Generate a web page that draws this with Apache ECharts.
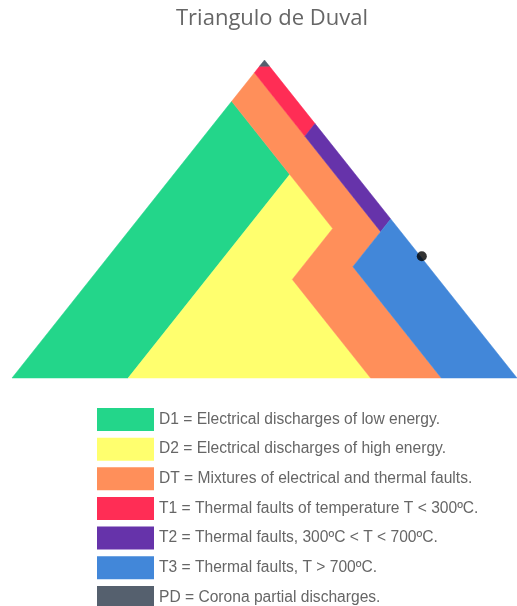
<!DOCTYPE html>
<html>
<head>
<meta charset="utf-8">
<script src="https://cdn.jsdelivr.net/npm/echarts@6/dist/echarts.min.js"></script>
<style>
  html, body { margin: 0; padding: 0; background: #fff; }
  #chart { width: 517px; height: 606px; }
</style>
</head>
<body>
<div id="chart"></div>
<script>
// Duval triangle 1: zone vertices given as [%CH4, %C2H4, %C2H2]
const zoneNames = [
  'D1 = Electrical discharges of low energy.',
  'D2 = Electrical discharges of high energy.',
  'DT = Mixtures of electrical and thermal faults.',
  'T1 = Thermal faults of temperature T < 300ºC.',
  'T2 = Thermal faults, 300ºC < T < 700ºC.',
  'T3 = Thermal faults, T > 700ºC.',
  'PD = Corona partial discharges.'
];
const zoneColors = ['#23d68a', '#ffff6e', '#ff8f5a', '#ff2d55', '#6633aa', '#4287d9', '#55606e'];

const zoneD1 = [[0, 0, 100], [0, 23, 77], [64, 23, 13], [87, 0, 13]];
const zoneD2 = [[0, 23, 77], [0, 71, 29], [31, 40, 29], [47, 40, 13], [64, 23, 13]];
const zoneDT = [[96, 0, 4], [76, 20, 4], [46, 50, 4], [35, 50, 15], [0, 85, 15], [0, 71, 29],
                [31, 40, 29], [47, 40, 13], [64, 23, 13], [87, 0, 13]];
const zoneT1 = [[98, 2, 0], [80, 20, 0], [76, 20, 4], [96, 0, 4], [98, 0, 2]];
const zoneT2 = [[80, 20, 0], [50, 50, 0], [46, 50, 4], [76, 20, 4]];
const zoneT3 = [[50, 50, 0], [0, 100, 0], [0, 85, 15], [35, 50, 15], [46, 50, 4]];
const zonePD = [[100, 0, 0], [98, 2, 0], [98, 0, 2]];

// Sample under analysis: [%CH4, %C2H4]
const samplePoint = [38.3, 62];

const zones = [zoneD1, zoneD2, zoneDT, zoneT1, zoneT2, zoneT3, zonePD];

// ternary -> plane: x = C2H4 + CH4/2, y = CH4
function toXY(ch4, c2h4) { return [c2h4 + ch4 / 2, ch4]; }

const series = zones.map((zone, i) => ({
  type: 'custom',
  name: zoneNames[i],
  coordinateSystem: 'cartesian2d',
  itemStyle: { color: zoneColors[i] },
  encode: { x: 0, y: 1 },
  data: zone.map(v => toXY(v[0], v[1])),
  renderItem: function (params, api) {
    if (params.dataIndex !== 0) return null;
    const pts = zone.map(v => api.coord(toXY(v[0], v[1])));
    return {
      type: 'polygon',
      shape: { points: pts },
      style: { fill: api.visual('color'), stroke: api.visual('color'), lineWidth: 0.5 }
    };
  },
  silent: true
}));

series.push({
  type: 'scatter',
  name: 'sample',
  symbolSize: 10,
  itemStyle: { color: '#000' },
  data: [toXY(samplePoint[0], samplePoint[1])],
  z: 10
});

// one legend block per zone so the list stays in a single column
const legends = zoneNames.map((name, i) => ({
  data: [name],
  orient: 'vertical',
  left: 92,
  top: 403 + i * 29.65,
  icon: 'rect',
  itemWidth: 57,
  itemHeight: 23,
  selectedMode: false,
  textStyle: { fontFamily: 'Liberation Sans', fontSize: 15.6, color: '#666' }
}));

const chart = echarts.init(document.getElementById('chart'));
chart.setOption({
  animation: false,
  title: {
    text: 'Triangulo de Duval',
    left: 171,
    top: 3,
    textStyle: { fontFamily: 'Open Sans', fontSize: 22, fontWeight: 'normal', color: '#666' }
  },
  grid: { left: 12, top: 60, width: 512, height: 318 },
  xAxis: { type: 'value', min: 0, max: 100, show: false },
  yAxis: { type: 'value', min: 0, max: 100, show: false },
  legend: legends,
  series: series
});
</script>
</body>
</html>
